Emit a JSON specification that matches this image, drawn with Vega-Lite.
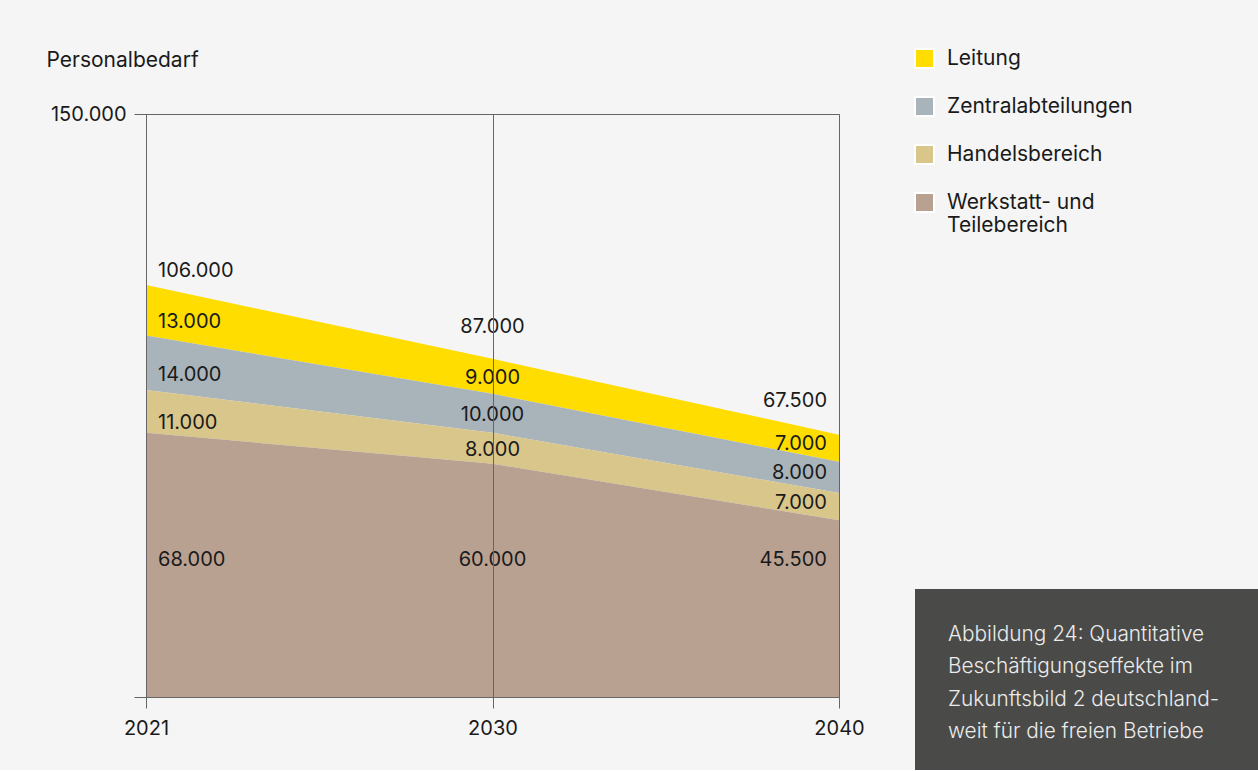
{
  "$schema": "https://vega.github.io/schema/vega-lite/v6.json",
  "background": "#f5f5f5",
  "padding": {"left": 45, "top": 48, "right": 0, "bottom": 0},
  "bounds": "flush",
  "spacing": 76,
  "config": {
    "font": "Inter",
    "locale": {"number": {"decimal": ",", "thousands": ".", "grouping": [3], "currency": ["", " €"]}},
    "axis": {"labelFont": "Inter", "labelFontSize": 20, "labelColor": "#1a1a1a", "domainColor": "#666", "tickColor": "#666", "titleFont": "Inter", "titleFontSize": 21, "titleFontWeight": "normal", "titleColor": "#1a1a1a"},
    "legend": {"labelFont": "Inter", "labelFontSize": 21, "labelColor": "#1a1a1a", "labelLimit": 400}
  },
  "hconcat": [
    {
      "width": 693,
      "height": 583,
      "view": {"stroke": "#666", "strokeWidth": 1},
      "data": {"values": [
        {"jahr": "2021", "bereich": "Leitung", "wert": 13000},
        {"jahr": "2021", "bereich": "Zentralabteilungen", "wert": 14000},
        {"jahr": "2021", "bereich": "Handelsbereich", "wert": 11000},
        {"jahr": "2021", "bereich": "Werkstatt- und Teilebereich", "wert": 68000},
        {"jahr": "2030", "bereich": "Leitung", "wert": 9000},
        {"jahr": "2030", "bereich": "Zentralabteilungen", "wert": 10000},
        {"jahr": "2030", "bereich": "Handelsbereich", "wert": 8000},
        {"jahr": "2030", "bereich": "Werkstatt- und Teilebereich", "wert": 60000},
        {"jahr": "2040", "bereich": "Leitung", "wert": 7000},
        {"jahr": "2040", "bereich": "Zentralabteilungen", "wert": 8000},
        {"jahr": "2040", "bereich": "Handelsbereich", "wert": 7000},
        {"jahr": "2040", "bereich": "Werkstatt- und Teilebereich", "wert": 45500}
      ]},
      "transform": [
        {"calculate": "indexof(['Werkstatt- und Teilebereich','Handelsbereich','Zentralabteilungen','Leitung'], datum.bereich)", "as": "ord"},
        {"stack": "wert", "groupby": ["jahr"], "sort": [{"field": "ord", "order": "ascending"}], "as": ["y0", "y1"]},
        {"joinaggregate": [{"op": "sum", "field": "wert", "as": "gesamt"}], "groupby": ["jahr"]},
        {"calculate": "datum.ord == 0 ? 36000 : (datum.y0 + datum.y1) / 2", "as": "ypos"}
      ],
      "encoding": {
        "x": {"field": "jahr", "type": "ordinal", "scale": {"type": "point", "padding": 0},
          "axis": {"title": null, "labelAngle": 0, "tickSize": 11, "labelPadding": 10, "grid": true, "gridColor": "#666", "gridOpacity": 1, "zindex": 1, "domain": true}}
      },
      "layer": [
        {
          "mark": {"type": "area", "opacity": 1},
          "encoding": {
            "y": {"field": "y1", "type": "quantitative", "scale": {"domain": [0, 150000], "nice": false},
              "axis": {"title": "Personalbedarf", "values": [0, 150000], "labelExpr": "datum.value == 150000 ? '150.000' : ''", "tickSize": 12, "labelPadding": 8, "grid": false, "titleAngle": 0, "titleAlign": "left", "titleBaseline": "middle", "titleX": -100, "titleY": -54}},
            "y2": {"field": "y0"},
            "color": {"field": "bereich", "type": "nominal",
              "scale": {"domain": ["Leitung", "Zentralabteilungen", "Handelsbereich", "Werkstatt- und Teilebereich"], "range": ["#ffdd00", "#a9b4ba", "#d8c68b", "#b9a192"]},
              "legend": {"title": null, "orient": "none", "legendX": 768, "legendY": -66, "symbolType": "square", "symbolSize": 361, "symbolStrokeColor": "#ffffff", "symbolStrokeWidth": 2, "symbolOpacity": 1, "rowPadding": 21, "labelOffset": 12,
                "labelExpr": "datum.label == 'Werkstatt- und Teilebereich' ? ['Werkstatt- und', 'Teilebereich'] : datum.label"}}
          }
        },
        {
          "transform": [{"filter": "datum.jahr == '2021'"}],
          "layer": [
            {"transform": [{"filter": "datum.ord > 0"}], "mark": {"type": "text", "align": "left", "dx": 12, "dy": 12, "fontSize": 20, "color": "#1a1a1a"},
              "encoding": {"y": {"field": "ypos", "type": "quantitative", "scale": {"domain": [0, 150000], "nice": false}, "axis": {"title": "Personalbedarf", "values": [0, 150000], "labelExpr": "datum.value == 150000 ? '150.000' : ''", "tickSize": 12, "labelPadding": 8, "grid": false, "titleAngle": 0, "titleAlign": "left", "titleBaseline": "middle", "titleX": -100, "titleY": -54}}, "text": {"field": "wert", "type": "quantitative", "format": ",.0f"}}},
            {"transform": [{"filter": "datum.ord == 0"}], "mark": {"type": "text", "align": "left", "dx": 12, "dy": 3, "fontSize": 20, "color": "#1a1a1a"},
              "encoding": {"y": {"field": "ypos", "type": "quantitative", "scale": {"domain": [0, 150000], "nice": false}, "axis": {"title": "Personalbedarf", "values": [0, 150000], "labelExpr": "datum.value == 150000 ? '150.000' : ''", "tickSize": 12, "labelPadding": 8, "grid": false, "titleAngle": 0, "titleAlign": "left", "titleBaseline": "middle", "titleX": -100, "titleY": -54}}, "text": {"field": "wert", "type": "quantitative", "format": ",.0f"}}},
            {"transform": [{"filter": "datum.ord == 3"}], "mark": {"type": "text", "align": "left", "dx": 12, "dy": -14, "fontSize": 20, "color": "#1a1a1a"},
              "encoding": {"y": {"field": "y1", "type": "quantitative", "scale": {"domain": [0, 150000], "nice": false}, "axis": {"title": "Personalbedarf", "values": [0, 150000], "labelExpr": "datum.value == 150000 ? '150.000' : ''", "tickSize": 12, "labelPadding": 8, "grid": false, "titleAngle": 0, "titleAlign": "left", "titleBaseline": "middle", "titleX": -100, "titleY": -54}}, "text": {"field": "gesamt", "type": "quantitative", "format": ",.0f"}}}
          ]
        },
        {
          "transform": [{"filter": "datum.jahr == '2030'"}],
          "layer": [
            {"transform": [{"filter": "datum.ord > 0"}], "mark": {"type": "text", "align": "center", "dx": 0, "dy": 2, "fontSize": 20, "color": "#1a1a1a"},
              "encoding": {"y": {"field": "ypos", "type": "quantitative", "scale": {"domain": [0, 150000], "nice": false}, "axis": {"title": "Personalbedarf", "values": [0, 150000], "labelExpr": "datum.value == 150000 ? '150.000' : ''", "tickSize": 12, "labelPadding": 8, "grid": false, "titleAngle": 0, "titleAlign": "left", "titleBaseline": "middle", "titleX": -100, "titleY": -54}}, "text": {"field": "wert", "type": "quantitative", "format": ",.0f"}}},
            {"transform": [{"filter": "datum.ord == 0"}], "mark": {"type": "text", "align": "center", "dx": 0, "dy": 3, "fontSize": 20, "color": "#1a1a1a"},
              "encoding": {"y": {"field": "ypos", "type": "quantitative", "scale": {"domain": [0, 150000], "nice": false}, "axis": {"title": "Personalbedarf", "values": [0, 150000], "labelExpr": "datum.value == 150000 ? '150.000' : ''", "tickSize": 12, "labelPadding": 8, "grid": false, "titleAngle": 0, "titleAlign": "left", "titleBaseline": "middle", "titleX": -100, "titleY": -54}}, "text": {"field": "wert", "type": "quantitative", "format": ",.0f"}}},
            {"transform": [{"filter": "datum.ord == 3"}], "mark": {"type": "text", "align": "center", "dx": 0, "dy": -32, "fontSize": 20, "color": "#1a1a1a"},
              "encoding": {"y": {"field": "y1", "type": "quantitative", "scale": {"domain": [0, 150000], "nice": false}, "axis": {"title": "Personalbedarf", "values": [0, 150000], "labelExpr": "datum.value == 150000 ? '150.000' : ''", "tickSize": 12, "labelPadding": 8, "grid": false, "titleAngle": 0, "titleAlign": "left", "titleBaseline": "middle", "titleX": -100, "titleY": -54}}, "text": {"field": "gesamt", "type": "quantitative", "format": ",.0f"}}}
          ]
        },
        {
          "transform": [{"filter": "datum.jahr == '2040'"}],
          "layer": [
            {"transform": [{"filter": "datum.ord > 0"}], "mark": {"type": "text", "align": "right", "dx": -12, "dy": -4, "fontSize": 20, "color": "#1a1a1a"},
              "encoding": {"y": {"field": "ypos", "type": "quantitative", "scale": {"domain": [0, 150000], "nice": false}, "axis": {"title": "Personalbedarf", "values": [0, 150000], "labelExpr": "datum.value == 150000 ? '150.000' : ''", "tickSize": 12, "labelPadding": 8, "grid": false, "titleAngle": 0, "titleAlign": "left", "titleBaseline": "middle", "titleX": -100, "titleY": -54}}, "text": {"field": "wert", "type": "quantitative", "format": ",.0f"}}},
            {"transform": [{"filter": "datum.ord == 0"}], "mark": {"type": "text", "align": "right", "dx": -12, "dy": 3, "fontSize": 20, "color": "#1a1a1a"},
              "encoding": {"y": {"field": "ypos", "type": "quantitative", "scale": {"domain": [0, 150000], "nice": false}, "axis": {"title": "Personalbedarf", "values": [0, 150000], "labelExpr": "datum.value == 150000 ? '150.000' : ''", "tickSize": 12, "labelPadding": 8, "grid": false, "titleAngle": 0, "titleAlign": "left", "titleBaseline": "middle", "titleX": -100, "titleY": -54}}, "text": {"field": "wert", "type": "quantitative", "format": ",.0f"}}},
            {"transform": [{"filter": "datum.ord == 3"}], "mark": {"type": "text", "align": "right", "dx": -12, "dy": -34, "fontSize": 20, "color": "#1a1a1a"},
              "encoding": {"y": {"field": "y1", "type": "quantitative", "scale": {"domain": [0, 150000], "nice": false}, "axis": {"title": "Personalbedarf", "values": [0, 150000], "labelExpr": "datum.value == 150000 ? '150.000' : ''", "tickSize": 12, "labelPadding": 8, "grid": false, "titleAngle": 0, "titleAlign": "left", "titleBaseline": "middle", "titleX": -100, "titleY": -54}}, "text": {"field": "gesamt", "type": "quantitative", "format": ",.0f"}}}
          ]
        }
      ]
    },
    {
      "vconcat": [
        {
          "width": 344,
          "height": 475,
          "view": {"stroke": null},
          "data": {"values": [{"leer": ""}]},
          "mark": {"type": "text"},
          "encoding": {"text": {"field": "leer", "type": "nominal"}}
        },
        {
          "width": 344,
          "height": 181,
          "view": {"stroke": null, "fill": "#4a4a48"},
          "data": {"values": [
            {"zeile": 1, "text": "Abbildung 24: Quantitative"},
            {"zeile": 2, "text": "Beschäftigungseffekte im"},
            {"zeile": 3, "text": "Zukunftsbild 2 deutschland-"},
            {"zeile": 4, "text": "weit für die freien Betriebe"}
          ]},
          "mark": {"type": "text", "align": "left", "dx": -139, "fontSize": 20.8, "fontWeight": 300, "color": "#ececec", "font": "Inter"},
          "encoding": {
            "y": {"field": "zeile", "type": "quantitative", "axis": null, "scale": {"domain": [-0.453, 5.203], "reverse": true, "nice": false, "zero": false}},
            "text": {"field": "text", "type": "nominal"}
          }
        }
      ],
      "spacing": 0,
      "bounds": "flush"
    }
  ]
}
